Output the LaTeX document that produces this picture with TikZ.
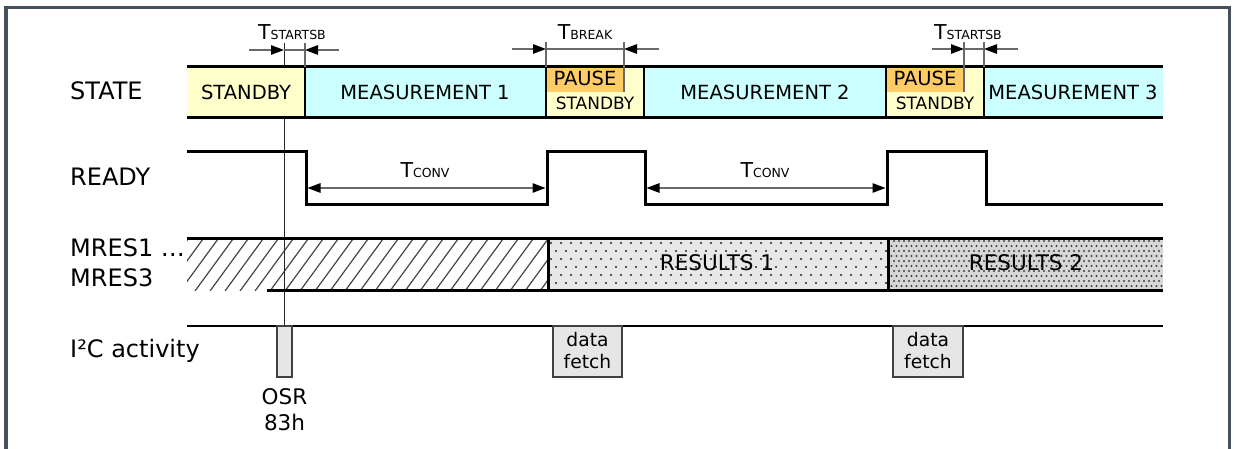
\documentclass[tikz,border=0pt]{standalone}
\usepackage{fontspec}
\setmainfont{DejaVu Sans}
\usetikzlibrary{arrows.meta}
\definecolor{framec}{RGB}{70,80,92}
\definecolor{sbyel}{RGB}{255,255,204}
\definecolor{meascyan}{RGB}{204,255,255}
\definecolor{pauseor}{RGB}{255,204,102}
\definecolor{boxgrey}{RGB}{230,230,230}
\definecolor{resonebg}{RGB}{232,232,232}
\definecolor{restwobg}{RGB}{215,215,215}
\definecolor{markc}{RGB}{105,105,105}
\definecolor{hatchc}{RGB}{70,70,70}
\newcommand{\Tsub}[1]{T{\fontsize{12.5}{14}\selectfont #1}}
\begin{document}
\begin{tikzpicture}[x=1pt,y=-1pt,
  sig/.style={line width=3pt, line join=miter},
  barsep/.style={line width=1.6pt},
  marker/.style={line width=1.2pt, draw=markc},
  dimtip/.style={-{Triangle[length=13pt,width=9.5pt,color=black]}, line width=1.2pt, draw=markc},
  dimboth/.style={{Triangle[length=13pt,width=9.5pt,color=black]}-{Triangle[length=13pt,width=9.5pt,color=black]}, line width=1.2pt, draw=markc},
  lbl/.style={font=\fontsize{24}{29}\selectfont, anchor=base west, inner sep=0pt},
  bartxt/.style={font=\fontsize{19.5}{22}\selectfont, anchor=base, inner sep=0pt},
  smalltxt/.style={font=\fontsize{17}{20}\selectfont, anchor=base, inner sep=0pt},
  restxt/.style={font=\fontsize{21.5}{24}\selectfont, anchor=base, inner sep=0pt},
  boxtxt/.style={font=\fontsize{18.7}{22}\selectfont, anchor=base, inner sep=0pt},
  osrtxt/.style={font=\fontsize{21.5}{24}\selectfont, anchor=base, inner sep=0pt},
  ttxt/.style={font=\fontsize{20.5}{24}\selectfont, anchor=base, inner sep=0pt},
  actbox/.style={draw=black!75, fill=boxgrey, line width=1.2pt},
  hatch/.style={draw=hatchc, line width=1.2pt}
]
\clip (0,0) rectangle (1237,449);
\fill[white] (0,0) rectangle (1237,449);
% frame
\draw[framec, line width=3.5pt] (6,460) -- (6,7.5) -- (1229.7,7.5) -- (1229.7,460);

% row labels
\node[lbl] (lstate) at (70,100) {STATE};
\node[lbl] (lready) at (70,186) {READY};
\node[lbl] (lmresa) at (70,256.7) {MRES1 …};
\node[lbl] (lmresb) at (70,286.7) {MRES3};
\node[lbl] (li2c) at (70,357.3) {I²C activity};

% thin timing reference line
\coordinate (reftop) at (284,43);
\coordinate (refbot) at (284,326);
\draw[black!85, line width=1pt] (reftop) -- (refbot);

% STATE bar fills
\fill[sbyel] (187,67) rectangle (305,118);
\fill[meascyan] (305,67) rectangle (546,118);
\fill[sbyel] (546,67) rectangle (644,118);
\fill[pauseor] (546,67) rectangle (624,92);
\fill[meascyan] (644,67) rectangle (886,118);
\fill[sbyel] (886,67) rectangle (984,118);
\fill[pauseor] (886,67) rectangle (964,92);
\fill[meascyan] (984,67) rectangle (1163,118);

% separators
\draw[barsep, line width=1.2pt] (305,67) -- (305,118);
\draw[barsep, line width=2pt] (546,67) -- (546,118);
\draw[barsep, line width=2pt] (644,67) -- (644,118);
\draw[barsep, line width=1.5pt] (886,67) -- (886,118);
\draw[barsep, line width=1.5pt] (984,67) -- (984,118);
\draw[sig] (187,67) -- (1163,67);
\draw[sig] (187,118) -- (1163,118);

% state texts
\node[bartxt] (tsb) at (246,100) {STANDBY};
\node[bartxt] (tm1) at (425,100) {MEASUREMENT 1};
\node[bartxt] (tp1) at (585,86) {PAUSE};
\node[smalltxt] (ts1) at (595,110) {STANDBY};
\node[bartxt] (tm2) at (765,100) {MEASUREMENT 2};
\node[bartxt] (tp2) at (925,86) {PAUSE};
\node[smalltxt] (ts2) at (935,110) {STANDBY};
\node[bartxt] (tm3) at (1073,100) {MEASUREMENT 3};

% timing markers
\coordinate (ma1) at (284,50);
\coordinate (mb1) at (305,50);
\draw[marker] (305,43) -- (305,67);
\coordinate (ma2) at (546,49);
\coordinate (mb2) at (624,49);
\draw[marker] (546,42) -- (546,67);
\draw[marker] (624,42) -- (624,92);
\coordinate (ma3) at (964,49);
\coordinate (mb3) at (984,49);
\draw[marker] (964,42) -- (964,92);
\draw[marker] (984,42) -- (984,67);

\coordinate (la1) at (249,50);
\coordinate (lb1) at (339,50);
\draw[dimtip] (la1) -- (ma1);
\draw[dimtip] (lb1) -- (mb1);
\draw[marker] (ma1) -- (mb1);
\coordinate (la2) at (512,49);
\coordinate (lb2) at (659,49);
\draw[dimtip] (la2) -- (ma2);
\draw[dimtip] (lb2) -- (mb2);
\draw[marker] (ma2) -- (mb2);
\coordinate (la3) at (932,49);
\coordinate (lb3) at (1018,49);
\draw[dimtip] (la3) -- (ma3);
\draw[dimtip] (lb3) -- (mb3);
\draw[marker] (ma3) -- (mb3);

\node[ttxt] (tstart1) at (292,40) {\Tsub{STARTSB}};
\node[ttxt] (tbreak) at (585,39.5) {\Tsub{BREAK}};
\node[ttxt] (tstart2) at (968,40) {\Tsub{STARTSB}};

% READY
\draw[sig] (187,152) -- (306,152) -- (306,205) -- (547,205) -- (547,152)
  -- (645,152) -- (645,205) -- (887,205) -- (887,152) -- (986,152) -- (986,205) -- (1163,205);
\coordinate (ca1) at (307.5,188);
\coordinate (cb1) at (545.5,188);
\coordinate (ca2) at (646.5,188);
\coordinate (cb2) at (885.5,188);
\draw[dimboth] (ca1) -- (cb1);
\draw[dimboth] (ca2) -- (cb2);
\node[ttxt] (tconv1) at (425,178) {\Tsub{CONV}};
\node[ttxt] (tconv2) at (765,178) {\Tsub{CONV}};

% MRES hatched region
\begin{scope}
\clip (187,239) rectangle (547,290);
\foreach \o in {150,165,...,560} \draw[hatch] (\o,291) -- ++(38,-52);
\draw[black!85, line width=1pt] (284,239) -- (284,290);
\end{scope}
% RESULTS 1 dots
\begin{scope}
\clip (548,239) rectangle (888,290);
\fill[resonebg] (548,239) rectangle (888,290);
\foreach \r in {0,...,6} {
  \foreach \c in {0,...,34} {
    \fill[black!85] ({551+10*\c+5*mod(\r,2)},{243+8*\r}) circle (1.1pt);
  }
}
\end{scope}
% RESULTS 2 dots
\begin{scope}
\clip (888,239) rectangle (1163,290);
\fill[restwobg] (888,239) rectangle (1163,290);
\foreach \r in {0,...,10} {
  \foreach \c in {0,...,55} {
    \fill[black!75] ({889+5*\c+2.5*mod(\r,2)},{241+5*\r}) circle (1.2pt);
  }
}
\end{scope}
\draw[sig] (187,239) -- (1163,239);
\draw[sig] (267,290.5) -- (1163,290.5);
\draw[line width=3pt] (548,239) -- (548,290.5);
\draw[line width=3pt] (888,239) -- (888,290.5);
\node[restxt] (tres1) at (717,270.7) {RESULTS 1};
\node[restxt] (tres2) at (1026,270.7) {RESULTS 2};

% I2C activity
\draw[line width=2.5pt] (187,326) -- (1163,326);
\draw[actbox] (277,326) rectangle (292,377);
\node[osrtxt] (tosr) at (284.5,404.3) {OSR};
\node[osrtxt] (t83h) at (284.5,430.7) {83h};
\draw[actbox] (553,326) rectangle (622,377);
\node[boxtxt] (df1a) at (587.5,346) {data};
\node[boxtxt] (df1b) at (587.5,368.3) {fetch};
\draw[actbox] (893,326) rectangle (963,377);
\node[boxtxt] (df2a) at (928,346) {data};
\node[boxtxt] (df2b) at (928,368.3) {fetch};
\end{tikzpicture}
\end{document}
